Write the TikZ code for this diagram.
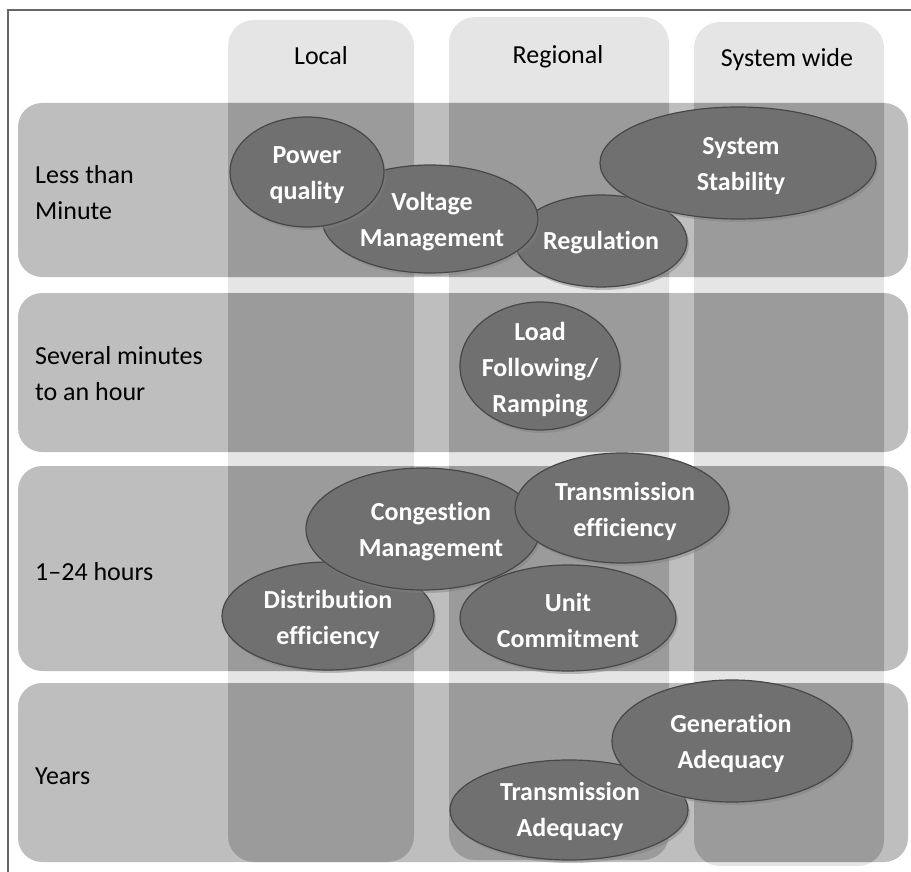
\documentclass[tikz,border=0pt]{standalone}
\usepackage{fontspec}
\setmainfont[Ligatures=NoCommon]{Carlito}
\usetikzlibrary{shadows}

\begin{document}
\begin{tikzpicture}[x=1pt,y=-1pt,
    hdr/.style={font=\fontsize{26}{36}\selectfont, inner sep=0pt, anchor=base},
    rowlbl/.style={font=\fontsize{26}{36}\selectfont, align=left, anchor=west, inner sep=0pt},
    bubble/.style={fill=bub, draw=bubedge, line width=1.2pt,
      drop shadow={shadow xshift=2pt, shadow yshift=-3pt, opacity=0.45}},
    bubtext/.style={font=\fontsize{26}{36}\selectfont\bfseries, text=white, align=center, inner sep=0pt}]
  \definecolor{colband}{gray}{0.9}
  \definecolor{rowband}{gray}{0.745}
  \definecolor{bub}{gray}{0.44}
  \definecolor{bubedge}{gray}{0.28}
  \useasboundingbox (0,0) rectangle (911,872);
  \draw[gray!80!black, line width=1.2pt] (8,872) -- (8,10) -- (911,10);
  \foreach \xa/\ya/\xb/\yb in {228/20/414/862, 449/17/669/860, 694/22/884/866}
    \fill[colband, rounded corners=26] (\xa,\ya) rectangle (\xb,\yb);
  \foreach \ya/\yb in {103/277, 293/452, 466/671, 683/862}
    \fill[rowband, rounded corners=24] (18,\ya) rectangle (908,\yb);
  \begin{scope}
    \clip[rounded corners=24] (18,103) rectangle (908,277) (18,293) rectangle (908,452)
      (18,466) rectangle (908,671) (18,683) rectangle (908,862);
    \foreach \xa/\ya/\xb/\yb in {228/20/414/862, 449/17/669/860, 694/22/884/866}
      \fill[black, opacity=0.18, rounded corners=26] (\xa,\ya) rectangle (\xb,\yb);
  \end{scope}
  \node[hdr] (local) at (321,65) {Local};
  \node[hdr] (regional) at (558,64) {Regional};
  \node[hdr] (syswide) at (787,67) {System wide};
  \node[rowlbl] (lessmin) at (35,193) {Less than\\Minute};
  \node[rowlbl] (sevmin) at (35,374) {Several minutes\\to an hour};
  \node[rowlbl] (hours) at (35,572) {1–24 hours};
  \node[rowlbl] (years) at (35,776) {Years};
  \path[bubble] (601,241) ellipse (86 and 46);
  \node[bubtext] (regul) at (601,243) {Regulation};
  \path[bubble] (430,219) ellipse (108 and 54);
  \node[bubtext] (voltm) at (432,222) {Voltage\\Management};
  \path[bubble] (307,172) ellipse (77 and 55);
  \node[bubtext] (pwrq) at (307,175) {Power\\quality};
  \path[bubble] (738,163) ellipse (138 and 56);
  \node[bubtext] (sysstab) at (741,166) {System\\Stability};
  \path[bubble] (540,366) ellipse (80 and 64);
  \node[bubtext] (loadf) at (540,370) {Load\\Following/\\Ramping};
  \path[bubble] (328,616) ellipse (106 and 54);
  \node[bubtext] (distef) at (328,619) {Distribution\\efficiency};
  \path[bubble] (423,529) ellipse (117 and 61);
  \node[bubtext] (congm) at (431,532) {Congestion\\Management};
  \path[bubble] (622,508) ellipse (107 and 55);
  \node[bubtext] (transef) at (625,511) {Transmission\\efficiency};
  \path[bubble] (568,618) ellipse (108 and 53);
  \node[bubtext] (unitc) at (568,620) {Unit\\Commitment};
  \path[bubble] (569,810) ellipse (119 and 50);
  \node[bubtext] (transad) at (570,811) {Transmission\\Adequacy};
  \path[bubble] (732,741) ellipse (120 and 61);
  \node[bubtext] (genad) at (731,743) {Generation\\Adequacy};
\end{tikzpicture}
\end{document}
